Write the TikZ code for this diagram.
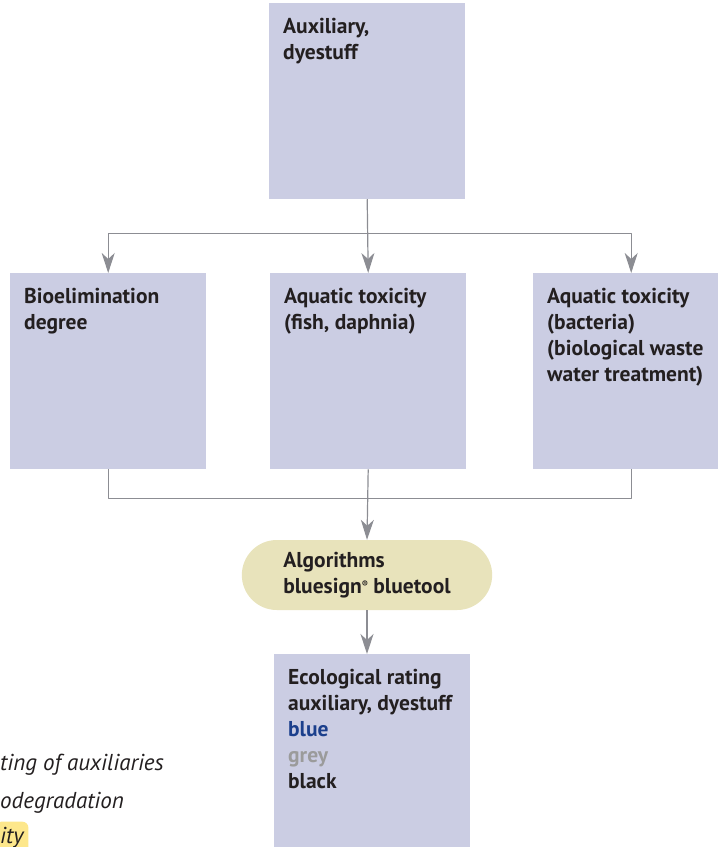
\documentclass[tikz,border=0pt]{standalone}
\usepackage{fontspec}
\setmainfont{PT Sans}
\usetikzlibrary{arrows.meta,positioning,shapes.misc}
\definecolor{boxfill}{RGB}{203,205,227}
\definecolor{pillfill}{RGB}{232,227,187}
\definecolor{linkgray}{RGB}{140,141,147}
\definecolor{ink}{RGB}{35,31,32}
\definecolor{blueword}{RGB}{27,63,140}
\definecolor{greyword}{RGB}{155,155,155}
\definecolor{marker}{RGB}{253,231,139}
\tikzset{
  box/.style={fill=boxfill,anchor=north west,minimum width=196pt,minimum height=196pt,inner sep=0pt},
  boxtext/.style={anchor=north west,align=left,inner sep=0pt,xshift=14pt,yshift=-15pt,
    text=ink,font=\fontsize{21.5}{26}\selectfont\bfseries},
  pill/.style={rounded rectangle,fill=pillfill,minimum width=257pt,minimum height=70pt,
    align=left,text=ink,font=\fontsize{21.5}{26}\selectfont\bfseries},
  link/.style={draw=linkgray,line width=1.2pt},
  note/.style={anchor=base west,inner sep=0pt,text=ink,font=\fontsize{23}{26}\selectfont\itshape}
}
\begin{document}
\begin{tikzpicture}[x=1pt,y=-1pt,>={Stealth[length=20pt,width=13pt,inset=6pt]},line join=round]
\useasboundingbox (0,0) rectangle (718,847);
\clip (0,0) rectangle (718,847);
% boxes
\node[box,label={[boxtext]north west:{Auxiliary,\\dyestuff}}] (aux) at (269,3) {};
\node[box,label={[boxtext]north west:{Bioelimination\\degree}}] (bio) at (10,273) {};
\node[box,label={[boxtext]north west:{Aquatic toxicity\\(fish, daphnia)}}] (fish) at (270,273) {};
\node[box,label={[boxtext]north west:{Aquatic toxicity\\(bacteria)\\(biological waste\\water treatment)}}] (bact) at (533,273) {};
\node[pill] (algo) at (367,575) {Algorithms\\bluesign\raisebox{.5ex}{\fontsize{9}{9}\selectfont\textregistered} bluetool};
\node[box,label={[boxtext]north west:{Ecological rating\\auxiliary, dyestuff\\\textcolor{blueword}{blue}\\\textcolor{greyword}{grey}\\black}}] (rating) at (274,654) {};
% notes
\node[note] (rate) at (0,770) {ting of auxiliaries};
\node[note] (degr) at (0,808) {odegradation};
\node[note,fill=marker,rounded corners=6pt,inner xsep=5pt,inner ysep=5pt] (tox) at (-5,843) {ity};
% connectors
\draw[link] (aux.south) -- ++(0,34) coordinate (split);
\draw[link,->] (split) -| (bio.north);
\draw[link,->] (split) -| (bact.north);
\draw[link,->] (aux.south) -- (fish.north);
\draw[link] (bio.south) -- ++(0,29) coordinate (merge) -| (bact.south);
\draw[link,->] (fish.south) -- (algo.north);
\draw[link,->] (algo.south) -- (algo.south |- rating.north);
\end{tikzpicture}
\end{document}
